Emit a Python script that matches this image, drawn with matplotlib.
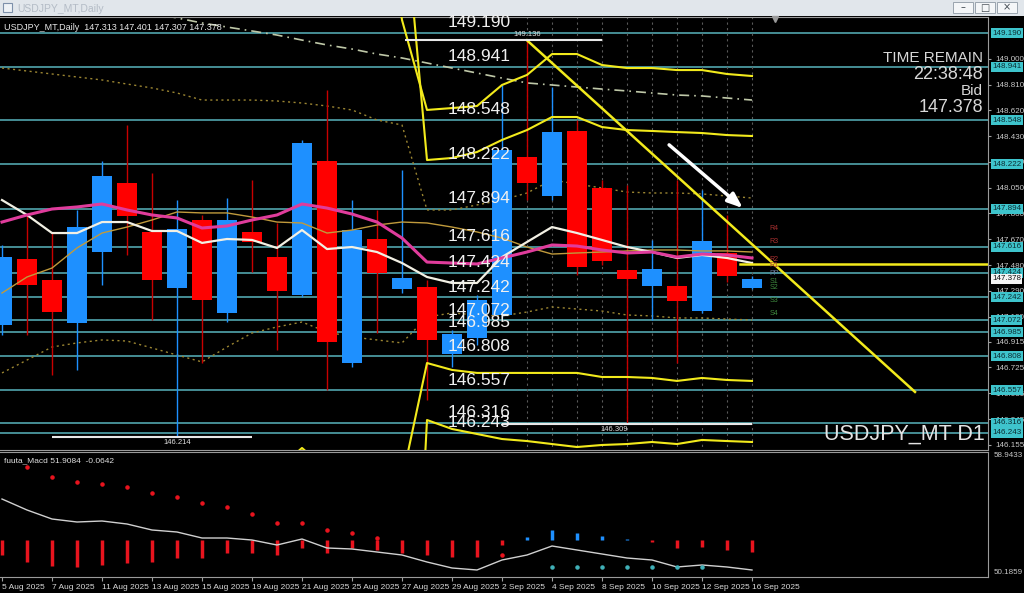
import numpy as np
import matplotlib
matplotlib.use("Agg")
import matplotlib.pyplot as plt
from matplotlib.transforms import blended_transform_factory
from matplotlib.patches import Rectangle

plt.rcParams['font.family'] = ['Liberation Sans', 'DejaVu Sans']

W, H = 1024, 593

# daily bars, 5 Aug 2025 .. 16 Sep 2025
openP = [147.038, 147.525, 147.370, 147.053, 147.576, 148.085, 147.724, 147.311,
         147.812, 147.127, 147.724, 147.539, 147.259, 148.247, 146.758, 147.672,
         147.304, 147.318, 146.825, 146.942, 147.112, 148.276, 147.989, 148.468,
         148.048, 147.444, 147.326, 147.326, 147.141, 147.569, 147.313]
highP = [147.628, 147.849, 147.716, 147.886, 148.247, 148.512, 148.158, 147.959,
         147.849, 147.974, 148.107, 147.790, 148.402, 148.770, 147.959, 147.886,
         148.180, 147.370, 147.001, 147.259, 148.807, 149.136, 148.792, 148.549,
         148.107, 148.070, 147.665, 148.107, 148.033, 147.849, 147.401]
lowP = [146.965, 146.965, 146.670, 146.707, 147.333, 147.554, 147.075, 146.214,
        146.758, 147.060, 147.429, 146.854, 147.245, 146.559, 146.729, 146.979,
        147.274, 146.486, 146.729, 146.891, 147.090, 147.959, 147.959, 147.407,
        147.480, 146.309, 147.075, 146.758, 147.127, 147.355, 147.307]
closeP = [147.539, 147.333, 147.134, 147.760, 148.136, 147.841, 147.370, 147.746,
          147.222, 147.812, 147.650, 147.289, 148.379, 146.913, 147.738, 147.421,
          147.385, 146.928, 146.972, 147.222, 148.328, 148.085, 148.460, 147.466,
          147.510, 147.377, 147.451, 147.215, 147.657, 147.399, 147.378]

dateIdx = [0, 2, 4, 6, 8, 10, 12, 14, 16, 18, 20, 22, 24, 26, 28, 30]
dateLabels = ["5 Aug 2025", "7 Aug 2025", "11 Aug 2025", "13 Aug 2025", "15 Aug 2025",
              "19 Aug 2025", "21 Aug 2025", "25 Aug 2025", "27 Aug 2025", "29 Aug 2025",
              "2 Sep 2025", "4 Sep 2025", "8 Sep 2025", "10 Sep 2025", "12 Sep 2025",
              "16 Sep 2025"]

# moving averages
maPink = [147.797, 147.849, 147.893, 147.908, 147.930, 147.886, 147.849, 147.827,
          147.753, 147.768, 147.812, 147.849, 147.930, 147.900, 147.856, 147.797,
          147.679, 147.502, 147.495, 147.488, 147.532, 147.576, 147.628, 147.620,
          147.591, 147.569, 147.576, 147.539, 147.561, 147.554, 147.532]
maWhite = [147.959, 147.849, 147.716, 147.716, 147.797, 147.797, 147.731, 147.731,
           147.643, 147.672, 147.665, 147.606, 147.738, 147.598, 147.613, 147.576,
           147.495, 147.392, 147.348, 147.348, 147.539, 147.650, 147.760, 147.716,
           147.665, 147.613, 147.576, 147.532, 147.554, 147.532, 147.495]
maTan = [147.274, 147.392, 147.458, 147.606, 147.716, 147.760, 147.812, 147.871,
         147.864, 147.864, 147.834, 147.797, 147.790, 147.716, 147.738, 147.775,
         147.797, 147.790, 147.760, 147.724, 147.679, 147.613, 147.561, 147.569,
         147.576, 147.584, 147.591, 147.591, 147.584, 147.584, 147.576]
bandUp = [148.932, 148.910, 148.888, 148.866, 148.844, 148.814, 148.785, 148.748,
          148.696, 148.696, 148.696, 148.689, 148.674, 148.652, 148.623, 148.549,
          148.512, 147.886, 147.886, 147.923, 147.959, 148.011, 148.107, 148.077,
          148.048, 148.018, 148.011, 148.011, 148.004, 147.989, 147.974]
bandDn = [146.685, 146.780, 146.876, 146.906, 146.928, 146.920, 146.869, 146.817,
          146.766, 146.876, 146.979, 147.024, 147.060, 146.987, 146.950, 146.928,
          146.906, 147.097, 147.127, 147.112, 147.105, 147.134, 147.171, 147.156,
          147.141, 147.112, 147.105, 147.090, 147.090, 147.082, 147.075]
maLong = [np.nan] * 4 + [149.404, 149.367, 149.337, 149.301, 149.264, 149.234, 149.205,
          149.175, 149.138, 149.102, 149.072, 149.035, 149.006, 148.969, 148.932,
          148.895, 148.858, 148.822, 148.807, 148.792, 148.777, 148.763, 148.748,
          148.733, 148.726, 148.711, 148.696]

# yellow channel lines
chanA = [np.nan] * 15 + [150.539, 149.286, 148.623, 148.637, 148.652, 148.807, 148.881,
         149.035, 149.035, 148.954, 148.932, 148.932, 148.917, 148.917, 148.888, 148.873]
chanB = [np.nan] * 16 + [150.295, 148.254, 148.269, 148.313, 148.402, 148.475, 148.571,
         148.571, 148.497, 148.475, 148.468, 148.460, 148.453, 148.438, 148.431]
chanC = [np.nan] * 11 + [145.970, 146.132, 145.970, 145.601, 145.307, 145.896, 146.758,
         146.707, 146.685, 146.685, 146.685, 146.685, 146.685, 146.655, 146.655,
         146.648, 146.626, 146.648, 146.633, 146.626]
chanD = [np.nan] * 16 + [142.801, 146.338, 146.272, 146.235, 146.198, 146.183, 146.161,
         146.139, 146.154, 146.161, 146.176, 146.161, 146.191, 146.183, 146.176]

levels = [149.190, 148.941, 148.548, 148.222, 147.894, 147.616, 147.424,
          147.242, 147.072, 146.985, 146.808, 146.557, 146.316, 146.243]
axisTicks = ["149.000", "148.810", "148.620", "148.430", "148.240", "148.050",
             "147.860", "147.670", "147.480", "147.290", "147.100", "146.915",
             "146.725", "146.535", "146.345", "146.155"]
bid = 147.378
trendX = [21, 36.52]
trendY = [149.136, 146.545]
hLineY = 147.49
pivotNames = ["R4", "R3", "R2", "R1", "PP", "S1", "S2", "S3", "S4"]
pivotY = [147.749, 147.653, 147.524, 147.473, 147.421, 147.362, 147.311, 147.222, 147.126]

# fuuta_Macd sub window
macdLine = [55.650, 54.880, 54.249, 54.039, 54.109, 53.899, 53.479, 53.338, 52.918,
            52.918, 52.778, 52.428, 52.848, 52.218, 52.148, 51.937, 51.727, 51.237,
            50.817, 50.677, 51.377, 51.727, 52.358, 52.078, 51.797, 51.517, 51.377,
            50.887, 51.027, 50.887, 50.677]
histBase = 52.778
histVal = [-1.051, -1.541, -1.822, -1.892, -1.752, -1.611, -1.541, -1.261, -1.261,
           -0.911, -0.911, -1.051, -0.560, -0.911, -0.560, -0.701, -0.911, -1.051,
           -1.191, -1.191, -0.350, 0.210, 0.701, 0.490, 0.280, 0.070, -0.140, -0.560,
           -0.490, -0.701, -0.841]
redDotIdx = [1, 2, 3, 4, 5, 6, 7, 8, 9, 10, 11, 12, 13, 14, 15, 20]
redDotVal = [57.892, 57.192, 56.841, 56.701, 56.491, 56.071, 55.790, 55.370, 55.090,
             54.599, 53.969, 53.969, 53.479, 53.268, 52.918, 51.727]
tealDotIdx = [22, 23, 24, 25, 26, 27, 28]
tealDotVal = [50.887] * 7

BLUE = "#1e90ff"
RED = "#ff0000"
CYAN = "#58b4bc"
YEL = "#f2ea1c"


def box(x0, y0, x1, y1):
    return [x0 / W, 1 - y1 / H, (x1 - x0) / W, (y1 - y0) / H]


fig = plt.figure(figsize=(W / 100, H / 100), dpi=100, facecolor="black")

# window title bar
bar = fig.add_axes(box(0, 0, W, 16))
bar.set_xlim(0, W)
bar.set_ylim(16, 0)
bar.set_facecolor("#e1e6eb")
bar.set_xticks([])
bar.set_yticks([])
for s in bar.spines.values():
    s.set_visible(False)
bar.add_patch(Rectangle((3, 3), 9, 9, fc="#eef2f6", ec="#7d90aa", lw=0.8))
bar.text(17, 8.5, "USDJPY_MT,Daily", fontsize=7.5, color="#b4bcc6", va="center")
for bx, sym in [(953, "\u2013"), (975, "\u25a1"), (997, "\u00d7")]:
    bar.add_patch(Rectangle((bx, 2), 20, 11, fc="#f4f6f8", ec="#9aa4ae", lw=0.7))
    bar.text(bx + 10, 7.5, sym, fontsize=7, color="#404850", ha="center", va="center",
             family="DejaVu Sans")

# main price window
ax = fig.add_axes(box(0, 17, 988, 450))
ax.set_facecolor("black")
ax.set_xlim(-0.08, 39.44)
ax.set_ylim(146.117, 149.308)
for k in ["top", "right", "bottom"]:
    ax.spines[k].set_color("#9a9a9a")
ax.spines["left"].set_visible(False)
ax.set_xticks([])
ax.yaxis.tick_right()
ax.set_yticks([float(t) for t in axisTicks])
ax.set_yticklabels(axisTicks, fontsize=5.8, color="#c8c8c8")
ax.tick_params(axis="y", length=2, pad=3, color="#a0a0a0")

xs = np.arange(len(openP))
ax.hlines(levels, -1, 41, color=CYAN, lw=1.1, zorder=1)

# dotted vertical markers on recent bars
ax.vlines(np.arange(21, 31), 146.1, 149.4, color="#5a5a5a", lw=0.8,
          linestyles=(0, (2, 3)), zorder=1)

ax.plot(xs, maLong, color="#bfc8a8", lw=1.2, ls=(0, (6, 3, 1, 3)), zorder=2)
ax.plot(xs, bandUp, color="#9c8632", lw=1, ls=(0, (1.5, 2.5)), zorder=2)
ax.plot(xs, bandDn, color="#9c8632", lw=1, ls=(0, (1.5, 2.5)), zorder=2)

for i in xs:
    up = closeP[i] >= openP[i]
    col = BLUE if up else RED
    ax.vlines(i, lowP[i], highP[i], color=BLUE if up else "#c80000", lw=1, zorder=3)
    ax.bar(i, abs(closeP[i] - openP[i]), bottom=min(openP[i], closeP[i]),
           width=0.8, color=col, zorder=4)

ax.plot(xs, maTan, color="#c09a3c", lw=1, zorder=5)
ax.plot(xs, maWhite, color="#f2f0e4", lw=1.6, zorder=5)
ax.plot(xs, maPink, color="#e03c9c", lw=2.2, zorder=5)

for ch in [chanA, chanB, chanC, chanD]:
    ax.plot(xs, ch, color=YEL, lw=1.5, zorder=5)
ax.plot(trendX, trendY, color=YEL, lw=1.8, zorder=5)
ax.plot([29.5, 39.6], [hLineY, hLineY], color=YEL, lw=1.8, zorder=5)

# high / low markers
ax.hlines(149.136, 16.1, 24.0, color="#e8e8e8", lw=1.5, zorder=6)
ax.text(21, 149.15, "149.136", fontsize=5.5, color="#e0e0e0", ha="center", va="bottom")
ax.hlines(146.214, 2.0, 10.0, color="#e8e8e8", lw=1.5, zorder=6)
ax.text(7, 146.195, "146.214", fontsize=5.5, color="#e0e0e0", ha="center", va="top")
ax.hlines(146.309, 20.0, 30.0, color="#e8e8e8", lw=1.5, zorder=6)
ax.text(24.5, 146.292, "146.309", fontsize=5.5, color="#e0e0e0", ha="center", va="top")

# level captions
for lv in levels:
    ax.text(17.84, lv + 0.02, f"{lv:.3f}", fontsize=12.5, color="#f0f0f0",
            ha="left", va="bottom", zorder=7)

# pivot captions
for nm, py in zip(pivotNames, pivotY):
    ax.text(30.7, py, nm, fontsize=5, va="center", zorder=7,
            color="#a83030" if nm[0] == "R" else ("#6a7a9a" if nm == "PP" else "#3f8a3f"))

ax.annotate("", xy=(29.72, 147.886), xytext=(26.6, 148.379),
            arrowprops=dict(arrowstyle="-|>,head_width=0.35,head_length=0.9",
                            color="white", lw=2.5), zorder=8)

# right scale boxes
trans = blended_transform_factory(ax.transAxes, ax.transData)
for lv in levels:
    ax.text(1.004, lv, f"{lv:.3f}", transform=trans, fontsize=5.8, color="#0c2c32",
            va="center", ha="left", clip_on=False, zorder=10,
            bbox=dict(boxstyle="square,pad=0.18", fc="#3ec4cc", ec="none"))
ax.text(1.004, bid, f"{bid:.3f}", transform=trans, fontsize=5.8, color="#101010",
        va="center", ha="left", clip_on=False, zorder=10,
        bbox=dict(boxstyle="square,pad=0.18", fc="#f4f4f4", ec="none"))

# overlays
ax.text(0.004, 0.975, "USDJPY_MT,Daily  147.313 147.401 147.307 147.378",
        transform=ax.transAxes, fontsize=6.5, color="#e8e8e8", va="center")
ax.text(0.995, 0.905, "TIME REMAIN", transform=ax.transAxes, fontsize=11,
        color="#d8d8d8", ha="right", va="center")
ax.text(0.995, 0.867, "22:38:48", transform=ax.transAxes, fontsize=13,
        color="#d8d8d8", ha="right", va="center")
ax.text(0.995, 0.829, "Bid", transform=ax.transAxes, fontsize=11,
        color="#d8d8d8", ha="right", va="center")
ax.text(0.995, 0.790, f"{bid:.3f}", transform=ax.transAxes, fontsize=13,
        color="#d8d8d8", ha="right", va="center")
ax.text(0.997, 0.012, "USDJPY_MT D1", transform=ax.transAxes, fontsize=15.5,
        color="#e4e4e4", ha="right", va="bottom")
ax.plot([30.9], [149.29], marker="v", color="#9a9a9a", ms=4, clip_on=False)

# indicator sub window
ax2 = fig.add_axes(box(0, 452, 988, 577))
ax2.set_facecolor("black")
ax2.set_xlim(-0.08, 39.44)
ax2.set_ylim(50.1859, 58.9433)
for k in ["top", "right", "bottom"]:
    ax2.spines[k].set_color("#9a9a9a")
ax2.spines["left"].set_visible(False)
ax2.set_yticks([])
ax2.set_xticks(dateIdx)
ax2.set_xticklabels(dateLabels, fontsize=6, color="#d8d8d8", ha="left")
ax2.tick_params(axis="x", length=3, pad=2, color="#a0a0a0")

hv = np.array(histVal)
ax2.vlines(xs, histBase, histBase + hv, colors=[BLUE if v > 0 else "#e8141e" for v in hv],
           lw=2.5)
ax2.plot(xs, macdLine, color="#d0d0d0", lw=1)
ax2.scatter(redDotIdx, redDotVal, s=5, color="#e8141e", zorder=3)
ax2.scatter(tealDotIdx, tealDotVal, s=5, color="#40b0b8", zorder=3)
ax2.text(0.004, 0.93, "fuuta_Macd 51.9084  -0.0642", transform=ax2.transAxes,
         fontsize=6, color="#e0e0e0", va="center")
ax2.text(1.006, 0.97, "58.9433", transform=ax2.transAxes, fontsize=5.8,
         color="#c8c8c8", va="center", clip_on=False)
ax2.text(1.006, 0.04, "50.1859", transform=ax2.transAxes, fontsize=5.8,
         color="#c8c8c8", va="center", clip_on=False)

fig.savefig("out.png", dpi=100, facecolor="black")
